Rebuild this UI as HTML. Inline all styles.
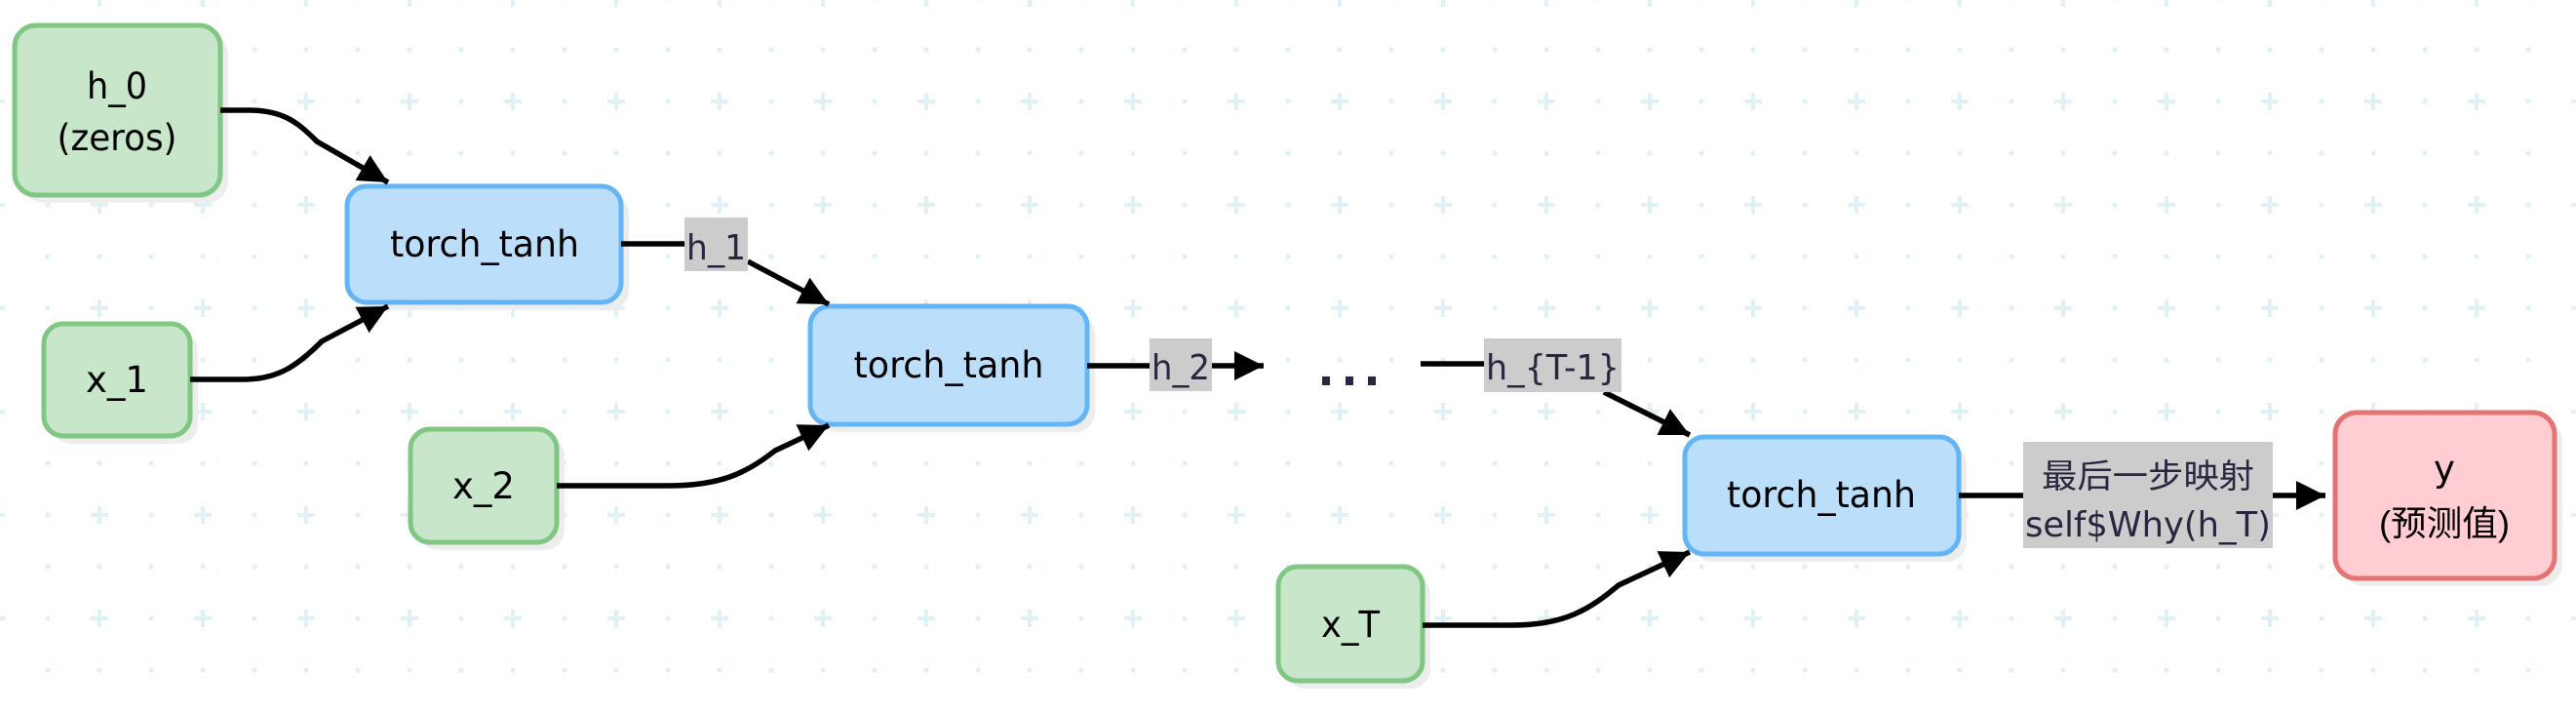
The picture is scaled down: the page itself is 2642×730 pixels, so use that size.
<!DOCTYPE html>
<html><head><meta charset="utf-8"><style>
html,body{margin:0;padding:0;background:#fff;}
svg{display:block;}
text{font-family:"DejaVu Sans","Liberation Sans","Noto Sans CJK SC",sans-serif;fill:#000;}
</style></head><body>
<svg width="2642" height="730" viewBox="0 0 2642 730" xmlns="http://www.w3.org/2000/svg">
<defs>
<pattern id="g" x="23" y="25" width="106" height="106" patternUnits="userSpaceOnUse">
<circle cx="26" cy="26" r="2.6" fill="#dff1f5"/>
<circle cx="79" cy="26" r="2.6" fill="#dff1f5"/>
<circle cx="26" cy="79" r="2.6" fill="#dff1f5"/>
<rect x="70" y="77" width="18" height="4" fill="#dff1f5"/>
<rect x="77" y="70" width="4" height="18" fill="#dff1f5"/>
</pattern>
<marker id="a" markerUnits="userSpaceOnUse" markerWidth="34" markerHeight="34" refX="30" refY="15" orient="auto">
<path d="M0,0 L30,15 L0,30 Z" fill="#000"/>
</marker>
</defs>
<rect width="2642" height="730" fill="url(#g)"/>

<g fill="#ededed">
<rect x="23" y="34" width="211" height="174" rx="22"/>
<rect x="53" y="340" width="150" height="115" rx="20"/>
<rect x="429" y="448" width="150" height="116" rx="20"/>
<rect x="1319" y="589" width="148" height="117" rx="20"/>
<rect x="364" y="199" width="281" height="119" rx="20"/>
<rect x="839" y="322" width="284" height="121" rx="20"/>
<rect x="1736" y="456" width="281" height="120" rx="20"/>
<rect x="2403" y="431" width="225" height="170" rx="22"/>
</g>

<g stroke-width="5">
<rect x="15" y="26" width="211" height="174" rx="22" fill="#c8e6c9" stroke="#81c784"/>
<rect x="45" y="332" width="150" height="115" rx="20" fill="#c8e6c9" stroke="#81c784"/>
<rect x="421" y="440" width="150" height="116" rx="20" fill="#c8e6c9" stroke="#81c784"/>
<rect x="1311" y="581" width="148" height="117" rx="20" fill="#c8e6c9" stroke="#81c784"/>
<rect x="356" y="191" width="281" height="119" rx="20" fill="#bbdefb" stroke="#64b5f6"/>
<rect x="831" y="314" width="284" height="121" rx="20" fill="#bbdefb" stroke="#64b5f6"/>
<rect x="1728" y="448" width="281" height="120" rx="20" fill="#bbdefb" stroke="#64b5f6"/>
<rect x="2395" y="423" width="225" height="170" rx="22" fill="#ffcdd2" stroke="#e57373"/>
</g>

<g fill="none" stroke="#000" stroke-width="5.5">
<path d="M226,113 L255,113 C290,113 305,125 325,145 L398,187" marker-end="url(#a)"/>
<path d="M195,389 L250,389 C285,389 305,375 330,350 L398,314" marker-end="url(#a)"/>
<path d="M637,250 L704,250"/>
<path d="M767,268 L850,312" marker-end="url(#a)"/>
<path d="M571,498 L685,498 C740,498 765,485 795,462 L850,436" marker-end="url(#a)"/>
<path d="M1115,375 L1296,375" marker-end="url(#a)"/>
<path d="M1457,373 L1524,373"/>
<path d="M1645,402 L1733,446" marker-end="url(#a)"/>
<path d="M1459,641 L1550,641 C1605,641 1630,625 1660,600 L1733,566" marker-end="url(#a)"/>
<path d="M2009,508 L2385,508" marker-end="url(#a)"/>
</g>

<g fill="#cccccc">
<rect x="702" y="223" width="65" height="55"/>
<rect x="1179" y="347" width="64" height="54"/>
<rect x="1522" y="347" width="141" height="55"/>
<rect x="2075" y="453" width="256" height="109"/>
</g>
<g font-size="36">
<text x="704" y="266" textLength="61" lengthAdjust="spacingAndGlyphs" style="fill:#2a2540">h_1</text>
<text x="1181" y="389" textLength="60" lengthAdjust="spacingAndGlyphs" style="fill:#2a2540">h_2</text>
<text x="1524" y="389" textLength="137" lengthAdjust="spacingAndGlyphs" style="fill:#2a2540">h_{T-1}</text>
<text x="2203" y="500" text-anchor="middle" textLength="218" lengthAdjust="spacingAndGlyphs" style="fill:#2a2540;font-family:'Noto Sans CJK SC',sans-serif" font-size="34">最后一步映射</text>
<text x="2077" y="550" textLength="252" lengthAdjust="spacingAndGlyphs" style="fill:#2a2540">self$Why(h_T)</text>
</g>
<g fill="#2a2540">
<rect x="1356" y="386" width="8" height="9"/>
<rect x="1380" y="386" width="8" height="9"/>
<rect x="1403" y="386" width="8" height="9"/>
</g>

<g font-size="37" text-anchor="middle">
<text x="120" y="101" textLength="62" lengthAdjust="spacingAndGlyphs">h_0</text>
<text x="120" y="154" textLength="123" lengthAdjust="spacingAndGlyphs">(zeros)</text>
<text x="120" y="402" textLength="64" lengthAdjust="spacingAndGlyphs">x_1</text>
<text x="496" y="511" textLength="64" lengthAdjust="spacingAndGlyphs">x_2</text>
<text x="1385" y="653" textLength="60" lengthAdjust="spacingAndGlyphs">x_T</text>
<text x="497" y="263" textLength="194" lengthAdjust="spacingAndGlyphs">torch_tanh</text>
<text x="973" y="387" textLength="195" lengthAdjust="spacingAndGlyphs">torch_tanh</text>
<text x="1868" y="520" textLength="194" lengthAdjust="spacingAndGlyphs">torch_tanh</text>
<text x="2507" y="493">y</text>
<text x="2507" y="549" style="font-family:'Liberation Sans','Noto Sans CJK SC',sans-serif" font-size="36" textLength="134" lengthAdjust="spacingAndGlyphs">(预测值)</text>
</g>
</svg>
</body></html>
